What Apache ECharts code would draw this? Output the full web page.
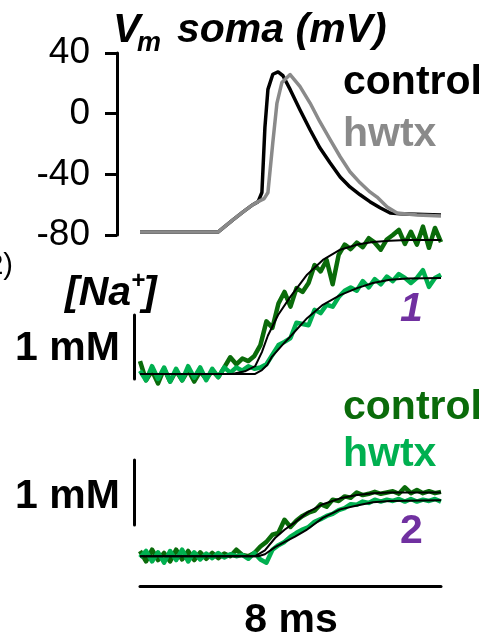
<!DOCTYPE html>
<html>
<head>
<meta charset="utf-8">
<script src="https://cdn.jsdelivr.net/npm/echarts@6/dist/echarts.min.js"></script>
<style>
  html, body { margin: 0; padding: 0; background: #fff; }
  #main { width: 487px; height: 640px; }
</style>
</head>
<body>
<div id="main"></div>
<script>
// soma voltage traces, [time ms, mV]
const vmControl = [
  [0, -78], [2.08, -78], [2.47, -70], [2.74, -64.8], [3.0, -60], [3.14, -58],
  [3.24, -52], [3.32, -9], [3.4, 16], [3.53, 26], [3.67, 27.5], [3.8, 25],
  [3.99, 16], [4.25, 2.6], [4.52, -10.6], [4.78, -22.5], [5.05, -32.4],
  [5.32, -41.7], [5.58, -48.3], [5.85, -53.5], [6.11, -58], [6.38, -62],
  [6.65, -65.5], [6.91, -66], [8, -66.8]
];
const vmHwtx = [
  [0, -78], [2.08, -78], [2.47, -70], [2.74, -64.8], [3.0, -60], [3.14, -58],
  [3.3, -56], [3.4, -52], [3.53, -19], [3.64, 7], [3.77, 20.5], [3.99, 25.8],
  [4.04, 26], [4.25, 18], [4.52, 7], [4.78, -5.3], [5.05, -17], [5.32, -28.4],
  [5.58, -38.3], [5.85, -45.6], [6.11, -51.6], [6.3, -55], [6.57, -61.5],
  [6.83, -65.5], [7.36, -66.8], [8, -67.5]
];
const vmTicks = [-80, -40, 0, 40];

// [Na+] sampling times (ms)
const naTime = [
  0, 0.16, 0.32, 0.48, 0.64, 0.8, 0.96, 1.12, 1.28, 1.44, 1.6, 1.76, 1.92,
  2.08, 2.24, 2.4, 2.56, 2.72, 2.88, 3.04, 3.2, 3.36, 3.52, 3.68, 3.84, 4.0,
  4.16, 4.32, 4.48, 4.64, 4.8, 4.96, 5.12, 5.28, 5.44, 5.6, 5.76, 5.92, 6.08,
  6.24, 6.4, 6.56, 6.72, 6.88, 7.04, 7.2, 7.36, 7.52, 7.68, 7.84, 8.0
];
// site 1, mM above baseline
const na1Control = [
  0.2, -0.1, 0.05, -0.15, 0.08, -0.12, 0.05, -0.1, 0.06, -0.12, 0.04, -0.08, 0.05,
  -0.05, 0.1, 0.26, 0.15, 0.24, 0.2, 0.28, 0.45, 0.82, 0.72, 1.1, 1.28, 1.05,
  1.34, 1.28, 1.42, 1.7, 1.6, 1.78, 1.4, 1.86, 2.02, 1.95, 2.05, 1.98, 2.12,
  2.05, 1.94, 2.1, 2.17, 2.25, 2.03, 2.22, 2.02, 2.3, 1.97, 2.28, 2.06
];
const na1Hwtx = [
  0.05, -0.1, 0.12, -0.08, 0.1, -0.12, 0.08, -0.1, 0.12, -0.06, 0.1, -0.1, 0.08,
  -0.05, 0.1, 0.02, 0.1, 0.05, 0.12, 0.08, 0.1, 0.15, 0.3, 0.45, 0.5, 0.56,
  0.8, 0.78, 0.76, 1.0, 0.95, 1.08, 1.05, 1.2, 1.3, 1.35, 1.3, 1.45, 1.35,
  1.48, 1.4, 1.52, 1.45, 1.56, 1.5, 1.42, 1.5, 1.62, 1.36, 1.5, 1.55
];
const na1ControlFit = [
  [0, 0], [2.45, 0], [2.79, 0.04], [3.06, 0.12], [3.24, 0.34], [3.4, 0.6],
  [3.67, 0.92], [3.99, 1.2], [4.44, 1.55], [4.86, 1.78], [5.32, 1.94],
  [5.77, 2.02], [6.19, 2.06], [6.64, 2.08], [7.1, 2.09], [8, 2.09]
];
const na1HwtxFit = [
  [0, 0], [3.06, 0], [3.24, 0.06], [3.38, 0.14], [3.51, 0.27], [3.78, 0.45],
  [3.99, 0.58], [4.44, 0.87], [4.86, 1.08], [5.32, 1.23], [5.77, 1.34],
  [6.19, 1.42], [6.64, 1.47], [7.1, 1.49], [8, 1.5]
];
// site 2
const na2Control = [
  0.08, -0.08, 0.1, -0.06, 0.05, -0.08, 0.1, -0.05, 0.08, -0.06, 0.06, -0.04, 0.05,
  -0.03, 0.04, 0.0, 0.1, 0.02, 0.0, 0.05, 0.15, 0.22, 0.33, 0.36, 0.56, 0.45,
  0.55, 0.62, 0.67, 0.7, 0.8, 0.76, 0.87, 0.85, 0.92, 0.9, 0.98, 0.94, 0.96,
  0.99, 0.96, 0.98, 1.0, 0.96, 1.06, 0.97, 1.02, 0.97, 1.0, 0.97, 0.99
];
const na2Hwtx = [
  -0.02, 0.08, -0.08, 0.06, -0.1, 0.08, -0.06, 0.1, -0.08, 0.06, -0.05, 0.04, -0.03,
  0.05, -0.02, 0.03, 0.0, 0.02, -0.04, 0.05, -0.05, -0.1, 0.1, 0.17, 0.22, 0.3,
  0.36, 0.41, 0.45, 0.53, 0.57, 0.62, 0.65, 0.71, 0.74, 0.8, 0.79, 0.84, 0.82,
  0.87, 0.84, 0.87, 0.85, 0.88, 0.84, 0.88, 0.84, 0.87, 0.85, 0.88, 0.84
];
const na2ControlFit = [
  [0, 0], [3.06, 0], [3.32, 0.09], [3.59, 0.28], [3.85, 0.41], [4.12, 0.52],
  [4.44, 0.67], [4.86, 0.8], [5.32, 0.89], [5.77, 0.94], [6.19, 0.97],
  [6.64, 0.98], [8, 0.98]
];
const na2HwtxFit = [
  [0, 0], [3.14, 0], [3.32, 0.03], [3.59, 0.14], [3.85, 0.22], [4.12, 0.3],
  [4.44, 0.41], [4.86, 0.59], [5.32, 0.72], [5.77, 0.78], [6.19, 0.83],
  [6.64, 0.85], [8, 0.86]
];

const FONT = "'Liberation Sans', Arial, sans-serif";
const DARK = '#0a6b0a';
const LIGHT = '#00b050';
const GRAY = '#8a8a8a';
const PURPLE = '#7030a0';

function pair(times, vals) {
  return times.map((t, i) => [t, vals[i]]);
}

function txt(x, y, s, opts) {
  return {
    type: 'text', x: x, y: y, z: 10,
    style: Object.assign({
      text: s, fontFamily: FONT, fontSize: 41, fontWeight: 'bold',
      fill: '#000', textAlign: 'left', textVerticalAlign: 'middle'
    }, opts || {})
  };
}

function trace(name, data, color, width, xi, z) {
  return {
    name: name, type: 'line', xAxisIndex: xi, yAxisIndex: xi,
    data: data, showSymbol: false, symbol: 'none', clip: false, z: z,
    lineStyle: { color: color, width: width, join: 'round' },
    silent: true, animation: false
  };
}

function barAxis(grid, min, max) {
  return {
    gridIndex: grid, type: 'value', min: min, max: max, offset: 6,
    axisLine: { show: true, onZero: false, lineStyle: { color: '#000', width: 3 } },
    axisTick: { show: false }, axisLabel: { show: false }, splitLine: { show: false }
  };
}

let chart = echarts.init(document.getElementById('main'));

let option = {
  animation: false,
  grid: [
    { left: 140, width: 301, top: 53, height: 182 },
    { left: 140, width: 301, top: 315, height: 64 },
    { left: 140, width: 301, top: 460, height: 65 }
  ],
  xAxis: [
    { gridIndex: 0, type: 'value', min: 0, max: 8, show: false },
    { gridIndex: 1, type: 'value', min: 0, max: 8, show: false },
    {
      gridIndex: 2, type: 'value', min: 0, max: 8, offset: 61,
      axisLine: { show: true, onZero: false, lineStyle: { color: '#000', width: 3 } },
      axisTick: { show: false }, axisLabel: { show: false }, splitLine: { show: false }
    }
  ],
  yAxis: [
    {
      gridIndex: 0, type: 'value', min: -80, max: 40, interval: 40, offset: 23,
      axisLine: { show: true, onZero: false, lineStyle: { color: '#000', width: 3 } },
      axisTick: { show: true, length: 12, lineStyle: { color: '#000', width: 3 } },
      axisLabel: {
        margin: 27, color: '#000', fontSize: 37, fontFamily: FONT,
        customValues: vmTicks
      },
      splitLine: { show: false }
    },
    barAxis(1, -0.08, 0.92),
    barAxis(2, 0.48, 1.48)
  ],
  series: [
    trace('control', vmControl, '#000', 3.5, 0, 2),
    trace('hwtx', vmHwtx, GRAY, 3.5, 0, 3),
    trace('control 1', pair(naTime, na1Control), DARK, 4.5, 1, 2),
    trace('hwtx 1', pair(naTime, na1Hwtx), LIGHT, 4.5, 1, 3),
    trace('fit control 1', na1ControlFit, '#000', 2, 1, 4),
    trace('fit hwtx 1', na1HwtxFit, '#000', 2, 1, 4),
    trace('control 2', pair(naTime, na2Control), DARK, 4.5, 2, 2),
    trace('hwtx 2', pair(naTime, na2Hwtx), LIGHT, 4.5, 2, 3),
    trace('fit control 2', na2ControlFit, '#000', 2, 2, 4),
    trace('fit hwtx 2', na2HwtxFit, '#000', 2, 2, 4)
  ],
  graphic: [
    // title
    txt(113, 31, 'V', { fontStyle: 'italic' }),
    txt(137, 44, 'm', { fontStyle: 'italic', fontSize: 27 }),
    txt(177, 31, 'soma (mV)', { fontStyle: 'italic' }),
    txt(343, 83, 'control'),
    txt(343, 135, 'hwtx', { fill: GRAY }),
    // fragment of neighbouring panel label
    txt(13, 266, '(2)', { fontWeight: 'normal', fontSize: 29, textAlign: 'right' }),
    // site 1
    txt(65, 294, '[Na', { fontStyle: 'italic' }),
    txt(131, 281, '+', { fontStyle: 'italic', fontSize: 24 }),
    txt(143, 294, ']', { fontStyle: 'italic' }),
    txt(15, 349, '1 mM'),
    txt(400, 310, '1', { fontStyle: 'italic', fill: PURPLE }),
    // site 2
    txt(343, 408, 'control', { fill: DARK }),
    txt(343, 455, 'hwtx', { fill: LIGHT }),
    txt(15, 497, '1 mM'),
    txt(400, 532, '2', { fill: PURPLE }),
    txt(291, 621, '8 ms', { textAlign: 'center' })
  ]
};

option && chart.setOption(option);
</script>
</body>
</html>
